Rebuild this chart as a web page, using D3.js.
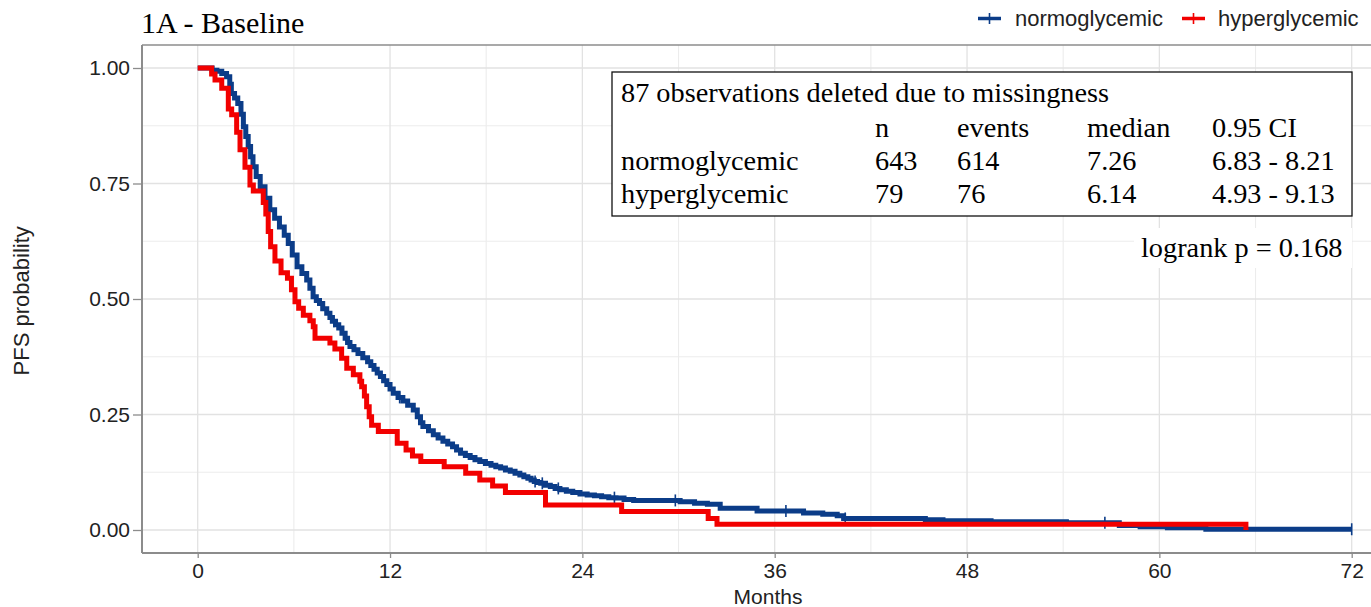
<!DOCTYPE html>
<html>
<head>
<meta charset="utf-8">
<script src="https://cdn.jsdelivr.net/npm/d3@7"></script>
<style>
  html, body { margin: 0; padding: 0; background: #fff; }
  svg { display: block; }
</style>
</head>
<body>
<svg id="chart" width="1371" height="607"></svg>
<script>
// ---------------- data ----------------
const seriesNames = ["normoglycemic", "hyperglycemic"];
const seriesColors = ["#0b3c88", "#f20000"];

// normoglycemic KM step function: time (months) at which survival drops to value
const normoTime = [0, 0.9, 1.2, 1.5, 1.8, 2.0, 2.1, 2.3, 2.5, 2.7, 2.85, 3.0, 3.15, 3.3, 3.45, 3.65, 3.9, 4.2, 4.5, 4.8,
  5.1, 5.4, 5.65, 5.9, 6.2, 6.5, 6.8, 7.0, 7.2, 7.4, 7.6, 7.8, 8.05, 8.25, 8.4, 8.6, 8.8, 9.0, 9.2, 9.35,
  9.5, 9.75, 10.0, 10.3, 10.6, 10.8, 11.0, 11.2, 11.4, 11.6, 11.8, 12.0, 12.2, 12.5, 12.8, 13.1, 13.45, 13.7, 13.9, 14.05,
  14.4, 14.7, 15.0, 15.3, 15.6, 15.9, 16.15, 16.4, 16.7, 17.0, 17.3, 17.6, 17.95, 18.3, 18.6, 18.9, 19.2, 19.5, 19.8, 20.1,
  20.35, 20.6, 20.8, 21.0, 21.2, 21.4, 21.7, 22.0, 22.3, 22.6, 23.0, 23.4, 23.85, 24.3, 24.75, 25.2, 25.65, 26.1, 26.6, 27.2,
  30.1, 31.0, 31.8, 32.6, 34.9, 37.8, 39.0, 39.9, 40.3, 45.4, 46.5, 49.5, 54.2, 57.5, 58.8, 60.5, 62.9, 72];
const normoSurv = [1.0, 0.995, 0.993, 0.988, 0.981, 0.965, 0.945, 0.935, 0.923, 0.9, 0.873, 0.852, 0.83, 0.808, 0.786, 0.765, 0.743, 0.718, 0.693, 0.675,
  0.656, 0.638, 0.62, 0.595, 0.57, 0.555, 0.541, 0.523, 0.505, 0.497, 0.49, 0.479, 0.469, 0.46, 0.452, 0.444, 0.437, 0.426, 0.415, 0.406,
  0.397, 0.39, 0.382, 0.373, 0.364, 0.356, 0.348, 0.34, 0.332, 0.323, 0.315, 0.305, 0.296, 0.287, 0.279, 0.27, 0.26, 0.245, 0.232, 0.224,
  0.215, 0.206, 0.199, 0.192, 0.186, 0.18, 0.173, 0.166, 0.161, 0.157, 0.152, 0.148, 0.144, 0.14, 0.137, 0.134, 0.13, 0.127, 0.123, 0.119,
  0.115, 0.112, 0.108, 0.105, 0.103, 0.101, 0.097, 0.094, 0.09, 0.087, 0.084, 0.081, 0.078, 0.076, 0.074, 0.072, 0.07, 0.069, 0.066, 0.064,
  0.061, 0.058, 0.056, 0.047, 0.041, 0.037, 0.034, 0.031, 0.025, 0.022, 0.02, 0.018, 0.0155, 0.0095, 0.007, 0.005, 0.0016, 0.0016];
const normoCensor = [8.5, 12.6, 21.05, 21.5, 22.5, 26.0, 29.8, 36.7, 40.4, 56.6, 72];

// hyperglycemic KM step function
const hyperTime = [0, 0.87, 1.08, 1.5, 1.91, 2.12, 2.43, 2.64, 2.95, 3.26, 3.47, 4.09, 4.25, 4.4, 4.55, 4.82, 5.2, 5.6, 5.85, 6.07,
  6.3, 6.59, 7.0, 7.21, 7.32, 8.25, 8.56, 8.98, 9.3, 9.71, 10.12, 10.23, 10.4, 10.54, 10.7, 10.85, 11.27, 12.45, 13.0, 13.4,
  13.92, 15.38, 16.72, 17.6, 18.4, 19.2, 21.7, 26.45, 31.85, 32.4, 65.4];
const hyperSurv = [1.0, 0.987, 0.974, 0.956, 0.911, 0.899, 0.861, 0.823, 0.785, 0.747, 0.734, 0.709, 0.684, 0.646, 0.613, 0.582, 0.557, 0.545, 0.52, 0.494,
  0.48, 0.465, 0.453, 0.44, 0.415, 0.405, 0.392, 0.372, 0.35, 0.336, 0.322, 0.31, 0.29, 0.267, 0.245, 0.227, 0.213, 0.188, 0.173, 0.16,
  0.148, 0.137, 0.123, 0.108, 0.095, 0.081, 0.054, 0.040, 0.025, 0.0127, 0];
const hyperCensor = [];

const xTicks = [0, 12, 24, 36, 48, 60, 72];
const yTicks = [0, 0.25, 0.5, 0.75, 1];
const xMinor = [6, 18, 30, 42, 54, 66];
const yMinor = [0.125, 0.375, 0.625, 0.875];

const titleText = "1A - Baseline";
const xTitle = "Months";
const yTitle = "PFS probability";
const tableHeader = "87 observations deleted due to missingness";
const tableCols = ["", "n", "events", "median", "0.95 CI"];
const tableRows = [
  ["normoglycemic", "643", "614", "7.26", "6.83 - 8.21"],
  ["hyperglycemic", "79", "76", "6.14", "4.93 - 9.13"]
];
const logrankText = "logrank p = 0.168";

// ---------------- layout ----------------
const svg = d3.select("#chart");
const panel = { left: 142, top: 45, right: 1410, bottom: 553 };
const x = d3.scaleLinear().domain([0, 72]).range([197.7, 1351.7]);
const y = d3.scaleLinear().domain([0, 1]).range([530, 68]);

svg.append("rect").attr("width", 1371).attr("height", 607).attr("fill", "#fff");

// grid
const grid = svg.append("g");
grid.selectAll(".vmin").data(xMinor).join("line")
  .attr("x1", d => x(d)).attr("x2", d => x(d)).attr("y1", panel.top).attr("y2", panel.bottom)
  .attr("stroke", "#ececec").attr("stroke-width", 1.1);
grid.selectAll(".hmin").data(yMinor).join("line")
  .attr("x1", panel.left).attr("x2", panel.right).attr("y1", d => y(d)).attr("y2", d => y(d))
  .attr("stroke", "#ececec").attr("stroke-width", 1.1);
grid.selectAll(".vmaj").data(xTicks).join("line")
  .attr("x1", d => x(d)).attr("x2", d => x(d)).attr("y1", panel.top).attr("y2", panel.bottom)
  .attr("stroke", "#e2e2e2").attr("stroke-width", 1.3);
grid.selectAll(".hmaj").data(yTicks).join("line")
  .attr("x1", panel.left).attr("x2", panel.right).attr("y1", d => y(d)).attr("y2", d => y(d))
  .attr("stroke", "#e2e2e2").attr("stroke-width", 1.3);

// curves
const line = d3.line().x(d => x(d[0])).y(d => y(d[1])).curve(d3.curveStepAfter);
function stepValue(times, surv, t) {
  const i = d3.bisectRight(times, t) - 1;
  return surv[Math.max(0, i)];
}
const series = [
  { times: normoTime, surv: normoSurv, censor: normoCensor, color: seriesColors[0] },
  { times: hyperTime, surv: hyperSurv, censor: hyperCensor, color: seriesColors[1] }
];
series.forEach(s => {
  const pts = s.times.map((t, i) => [t, s.surv[i]]);
  svg.append("path").datum(pts).attr("d", line)
    .attr("fill", "none").attr("stroke", s.color).attr("stroke-width", 5)
    .attr("stroke-linejoin", "miter").attr("stroke-linecap", "butt");
  svg.append("g").selectAll("line").data(s.censor).join("line")
    .attr("x1", d => x(d)).attr("x2", d => x(d))
    .attr("y1", d => y(stepValue(s.times, s.surv, d)) - 6)
    .attr("y2", d => y(stepValue(s.times, s.surv, d)) + 6)
    .attr("stroke", s.color).attr("stroke-width", 1.6);
});

// panel border / axis lines
svg.append("line").attr("x1", panel.left).attr("x2", panel.right).attr("y1", panel.top).attr("y2", panel.top)
  .attr("stroke", "#8c8c8c").attr("stroke-width", 1.3);
svg.append("line").attr("x1", panel.left).attr("x2", panel.left).attr("y1", panel.top).attr("y2", panel.bottom)
  .attr("stroke", "#8c8c8c").attr("stroke-width", 2);
svg.append("line").attr("x1", panel.left).attr("x2", panel.right).attr("y1", panel.bottom).attr("y2", panel.bottom)
  .attr("stroke", "#8c8c8c").attr("stroke-width", 2);

// axes
const xAxis = svg.append("g").attr("transform", `translate(0,${panel.bottom})`)
  .call(d3.axisBottom(x).tickValues(xTicks).tickSize(5).tickPadding(5).tickFormat(d3.format("d")));
const yAxis = svg.append("g").attr("transform", `translate(${panel.left},0)`)
  .call(d3.axisLeft(y).tickValues(yTicks).tickSize(9).tickPadding(3).tickFormat(d3.format(".2f")));
[xAxis, yAxis].forEach(a => {
  a.select(".domain").remove();
  a.selectAll(".tick line").attr("stroke", "#8c8c8c").attr("stroke-width", 1.3);
  a.selectAll(".tick text").attr("fill", "#222").attr("font-family", "'Liberation Sans', Arial, sans-serif").attr("font-size", 21);
});

// axis titles
svg.append("text").attr("x", 768).attr("y", 604).attr("text-anchor", "middle")
  .attr("font-family", "'Liberation Sans', Arial, sans-serif").attr("font-size", 21).attr("fill", "#222").text(xTitle);
svg.append("text").attr("transform", "translate(28.5,300.8) rotate(-90)").attr("text-anchor", "middle")
  .attr("font-family", "'Liberation Sans', Arial, sans-serif").attr("font-size", 22).attr("fill", "#222").text(yTitle);

// title
svg.append("text").attr("x", 141).attr("y", 33)
  .attr("font-family", "'Liberation Serif', 'Times New Roman', serif").attr("font-size", 30).attr("fill", "#000").text(titleText);

// legend
const legendX = [978, 1182];
const legendTextX = [1015, 1218];
seriesNames.forEach((name, i) => {
  svg.append("line").attr("x1", legendX[i]).attr("x2", legendX[i] + 23).attr("y1", 18.5).attr("y2", 18.5)
    .attr("stroke", seriesColors[i]).attr("stroke-width", 3.5);
  svg.append("line").attr("x1", legendX[i] + 11.5).attr("x2", legendX[i] + 11.5).attr("y1", 13).attr("y2", 24)
    .attr("stroke", seriesColors[i]).attr("stroke-width", 1.6);
  svg.append("text").attr("x", legendTextX[i]).attr("y", 26)
    .attr("font-family", "'Liberation Sans', Arial, sans-serif").attr("font-size", 22).attr("fill", "#222").text(name);
});

// table box
const serif = "'Liberation Serif', 'Times New Roman', serif";
svg.append("rect").attr("x", 612).attr("y", 72).attr("width", 740).attr("height", 144)
  .attr("fill", "#fff").attr("stroke", "#111").attr("stroke-width", 1.3);
const colX = [621, 875, 957, 1087, 1212];
const rowY = [101.7, 136.7, 170, 203.3];
svg.append("text").attr("x", colX[0]).attr("y", rowY[0]).attr("font-family", serif).attr("font-size", 28.3).text(tableHeader);
tableCols.forEach((c, j) => {
  svg.append("text").attr("x", colX[j]).attr("y", rowY[1]).attr("font-family", serif).attr("font-size", 28.3).text(c);
});
tableRows.forEach((row, i) => {
  row.forEach((c, j) => {
    svg.append("text").attr("x", colX[j]).attr("y", rowY[2 + i]).attr("font-family", serif).attr("font-size", 28.3).text(c);
  });
});

// logrank label
svg.append("rect").attr("x", 1134).attr("y", 228).attr("width", 218).attr("height", 40).attr("fill", "#fff");
svg.append("text").attr("x", 1141).attr("y", 257).attr("font-family", serif).attr("font-size", 28.3).text(logrankText);
</script>
</body>
</html>
